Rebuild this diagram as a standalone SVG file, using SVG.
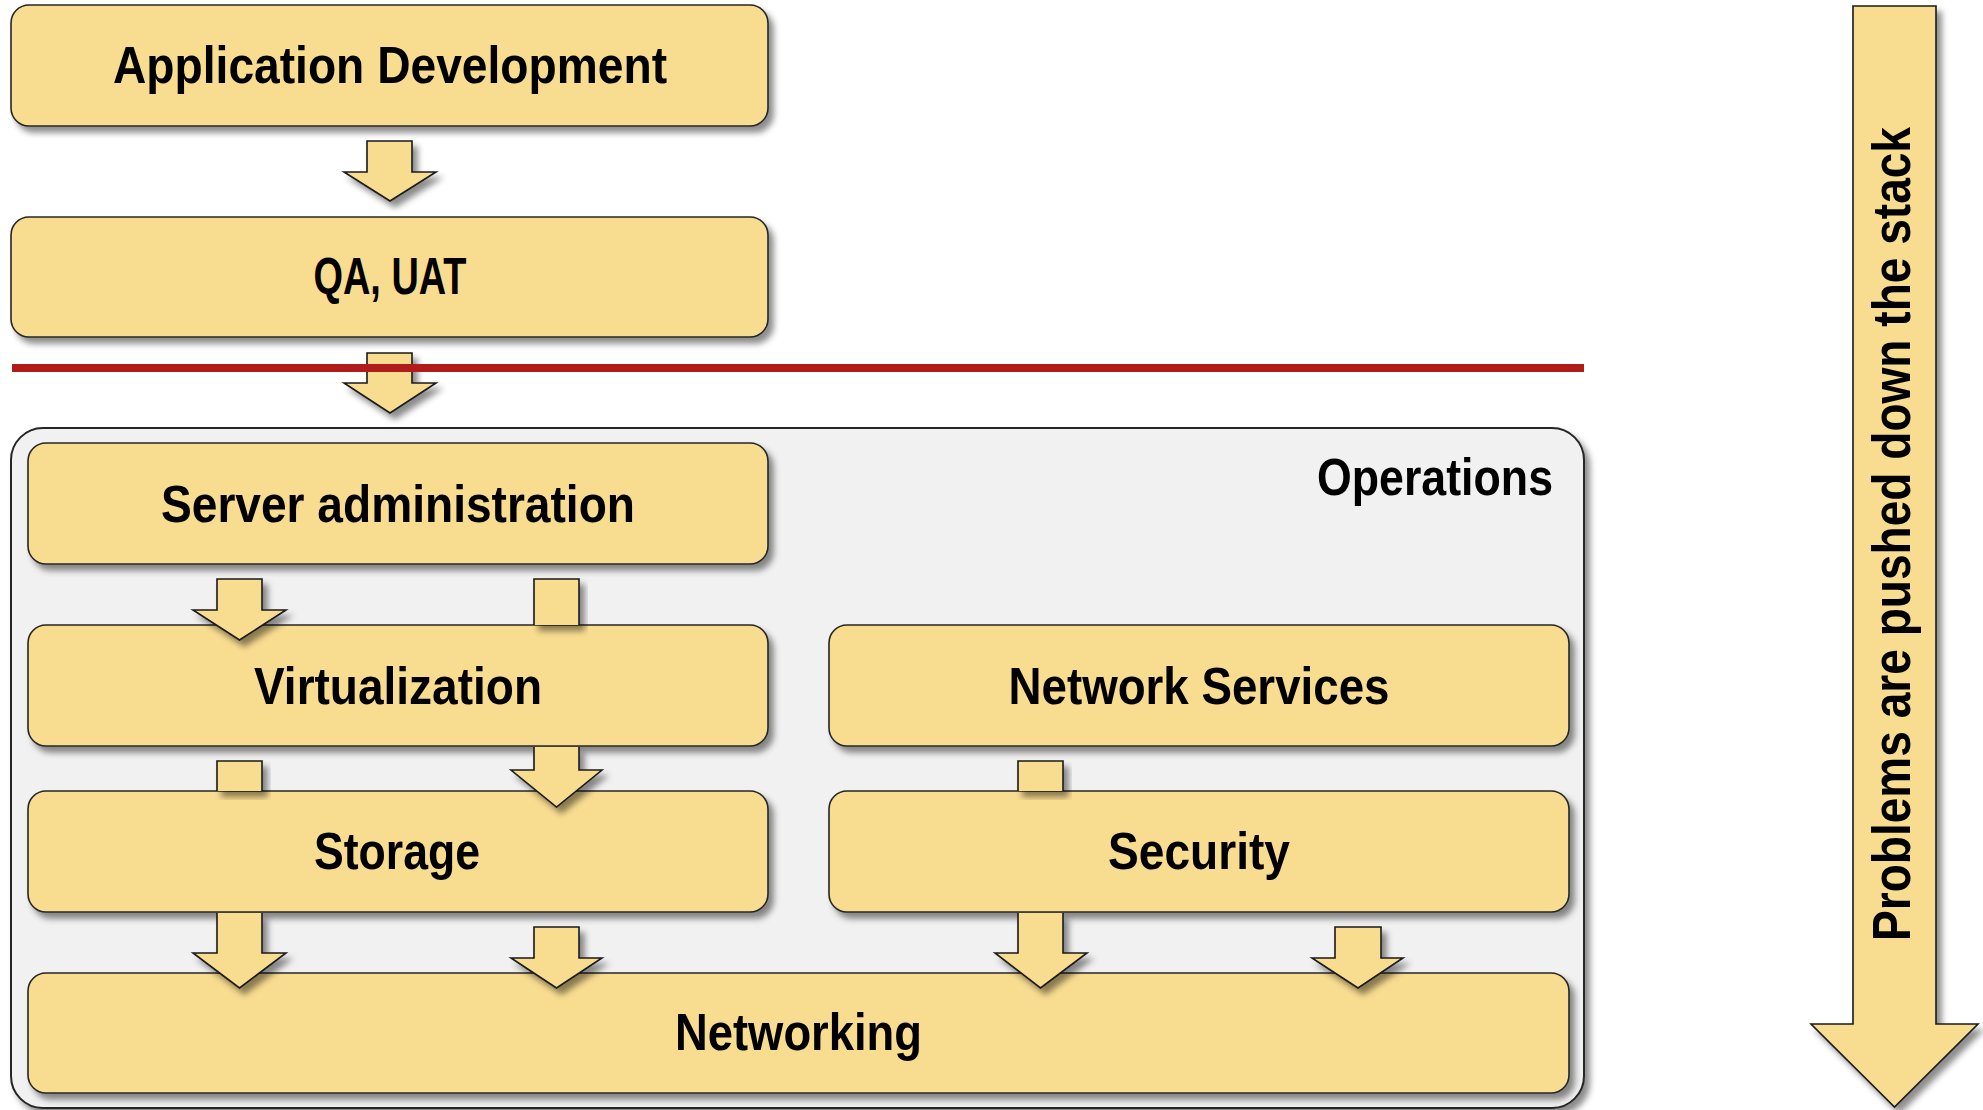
<svg xmlns="http://www.w3.org/2000/svg" width="1983" height="1110" viewBox="0 0 1983 1110">
<defs>
<filter id="sh" x="-10%" y="-10%" width="130%" height="140%">
<feDropShadow dx="5" dy="6" stdDeviation="3" flood-color="#000" flood-opacity="0.45"/>
</filter>
<style>
.box{fill:#F8DC90;stroke:#262626;stroke-width:1.6;filter:url(#sh)}
.ops{fill:#F1F1F1;stroke:#262626;stroke-width:2;filter:url(#sh)}
.arr{fill:#F8DC90;stroke:#1a1a1a;stroke-width:1.6;stroke-linejoin:miter;filter:url(#sh)}
.t{font-family:"Liberation Sans Narrow","Liberation Sans",Arial,sans-serif;font-weight:bold;font-size:52px;fill:#000;text-anchor:middle}
</style>
</defs>
<rect width="1983" height="1110" fill="#fff"/>

<g id="operations">
<rect class="ops" x="11" y="428" width="1573" height="680" rx="32"/>
<text class="t" x="1435" y="495" textLength="236" lengthAdjust="spacingAndGlyphs">Operations</text>
</g>

<g id="app-development">
<rect class="box" x="11" y="5" width="757" height="121" rx="18"/>
<text class="t" x="390" y="83" textLength="554" lengthAdjust="spacingAndGlyphs">Application Development</text>
</g>
<g id="qa-uat">
<rect class="box" x="11" y="217" width="757" height="120" rx="18"/>
<text class="t" x="390" y="294" textLength="153" lengthAdjust="spacingAndGlyphs">QA, UAT</text>
</g>
<g id="server-administration">
<rect class="box" x="28" y="443" width="740" height="121" rx="18"/>
<text class="t" x="398" y="522" textLength="474" lengthAdjust="spacingAndGlyphs">Server administration</text>
</g>
<g id="virtualization">
<rect class="box" x="28" y="625" width="740" height="121" rx="18"/>
<text class="t" x="398" y="704" textLength="288" lengthAdjust="spacingAndGlyphs">Virtualization</text>
</g>
<g id="network-services">
<rect class="box" x="829" y="625" width="740" height="121" rx="18"/>
<text class="t" x="1199" y="704" textLength="381" lengthAdjust="spacingAndGlyphs">Network Services</text>
</g>
<g id="storage">
<rect class="box" x="28" y="791" width="740" height="121" rx="18"/>
<text class="t" x="397" y="869" textLength="166" lengthAdjust="spacingAndGlyphs">Storage</text>
</g>
<g id="security">
<rect class="box" x="829" y="791" width="740" height="121" rx="18"/>
<text class="t" x="1199" y="869" textLength="182" lengthAdjust="spacingAndGlyphs">Security</text>
</g>
<g id="networking">
<rect class="box" x="28" y="973" width="1541" height="120" rx="18"/>
<text class="t" x="798.5" y="1050" textLength="247" lengthAdjust="spacingAndGlyphs">Networking</text>
</g>

<g id="connectors">
<path class="arr" d="M367 141 H412 V172 H436 L390 201 L344 172 H367 Z"/>
<path class="arr" d="M367 353 H412 V383 H436 L390 413 L344 383 H367 Z"/>
<path class="arr" d="M217 579 H262 V610 H286 L239.5 640 L193 610 H217 Z"/>
<path class="arr" d="M534 625 V579 H579 V625"/>
<path class="arr" d="M534 747 V770 H511 L556.5 807 L602 770 H579 V747"/>
<path class="arr" d="M217 791 V761 H262 V791"/>
<path class="arr" d="M217 913 V953 H193 L239.5 988 L286 953 H262 V913"/>
<path class="arr" d="M534 927 H579 V958 H602 L556.5 988 L511 958 H534 Z"/>
<path class="arr" d="M1018 791 V761 H1063 V791"/>
<path class="arr" d="M1018 913 V953 H995 L1040.5 988 L1087 953 H1063 V913"/>
<path class="arr" d="M1335 927 H1381 V958 H1403 L1358 988 L1312 958 H1335 Z"/>
</g>

<line id="boundary" x1="12" y1="368" x2="1584" y2="368" stroke="#B11B1B" stroke-width="8"/>

<g id="problems-arrow">
<path class="arr" d="M1853 6 H1936 V1024 H1978 L1894.5 1107 L1811 1024 H1853 Z"/>
<text class="t" transform="translate(1910 534) rotate(-90)" x="0" y="0" style="font-size:54px" textLength="814" lengthAdjust="spacingAndGlyphs">Problems are pushed down the stack</text>
</g>
</svg>
